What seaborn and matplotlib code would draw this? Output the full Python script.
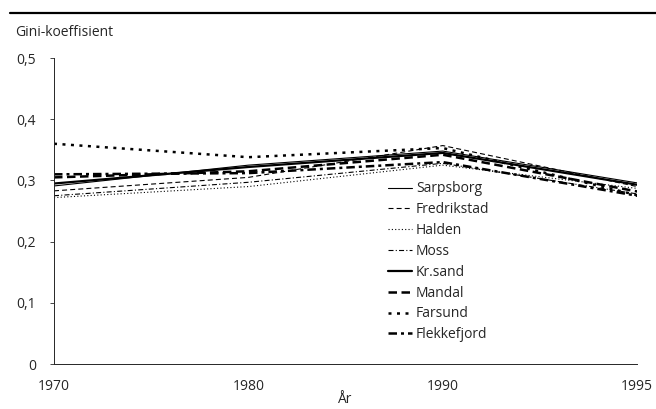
import pandas as pd
import seaborn as sns
import matplotlib.pyplot as plt
from matplotlib.lines import Line2D

# data (Gini coefficient by year)
years = [1970, 1980, 1990, 1995]
sarpsborg = [0.291, 0.325, 0.348, 0.296]
fredrikstad = [0.283, 0.305, 0.357, 0.290]
halden = [0.272, 0.290, 0.325, 0.287]
moss = [0.275, 0.297, 0.328, 0.278]
krsand = [0.295, 0.322, 0.345, 0.293]
mandal = [0.305, 0.315, 0.342, 0.282]
farsund = [0.360, 0.338, 0.353, 0.276]
flekkefjord = [0.310, 0.312, 0.330, 0.275]

names = ["Sarpsborg", "Fredrikstad", "Halden", "Moss",
         "Kr.sand", "Mandal", "Farsund", "Flekkefjord"]
series = [sarpsborg, fredrikstad, halden, moss,
          krsand, mandal, farsund, flekkefjord]

# line styles: thin for the first four towns, heavy for the last four
styles = {
    "Sarpsborg": dict(lw=0.8, dashes=None),
    "Fredrikstad": dict(lw=0.8, dashes=(4.5, 2.8)),
    "Halden": dict(lw=0.8, dashes=(1, 2)),
    "Moss": dict(lw=0.8, dashes=(4.5, 2, 1, 2)),
    "Kr.sand": dict(lw=1.6, dashes=None),
    "Mandal": dict(lw=1.8, dashes=(3.4, 1.8)),
    "Farsund": dict(lw=1.8, dashes=(1.2, 2.2)),
    "Flekkefjord": dict(lw=1.8, dashes=(3.4, 1.6, 1.2, 1.6)),
}

sns.set_style("ticks")
plt.rcParams["font.family"] = ["Open Sans", "DejaVu Sans"]

fig = plt.figure(figsize=(6.56, 4.09), dpi=100)
ax = fig.add_axes([0.0823, 0.110, 0.889, 0.748])

pos = list(range(len(years)))
handles = []
for name, vals in zip(names, series):
    df = pd.DataFrame({"pos": pos, "gini": vals})
    st = styles[name]
    sns.lineplot(data=df, x="pos", y="gini", ax=ax, color="black",
                 linewidth=st["lw"], legend=False)
    line = ax.get_lines()[-1]
    if st["dashes"] is not None:
        line.set_dashes(st["dashes"])
    h = Line2D([], [], color="black", lw=st["lw"])
    if st["dashes"] is not None:
        h.set_dashes(st["dashes"])
    handles.append(h)

ax.set_xlim(0, 3)
ax.set_ylim(0, 0.5)
ax.set_xticks(pos)
ax.set_xticklabels([str(y) for y in years])
ax.set_yticks([0, 0.1, 0.2, 0.3, 0.4, 0.5])
ax.set_yticklabels(["0", "0,1", "0,2", "0,3", "0,4", "0,5"])
ax.tick_params(axis="y", length=3, width=0.6, pad=10, labelsize=10)
ax.tick_params(axis="x", length=0, pad=11, labelsize=10)
ax.set_xlabel("År", fontsize=10, labelpad=-2)
ax.set_ylabel("")
for s in ["top", "right"]:
    ax.spines[s].set_visible(False)
for s in ["left", "bottom"]:
    ax.spines[s].set_linewidth(0.7)

ax.legend(handles, names, loc="upper left", bbox_to_anchor=(0.573, 0.597),
          frameon=False, fontsize=10, handlelength=1.75, handletextpad=0.25,
          labelspacing=0.42, borderpad=0, borderaxespad=0)

fig.text(0.023, 0.921, "Gini-koeffisient", fontsize=10, va="center")
fig.add_artist(Line2D([0.015, 1.0], [0.969, 0.969], color="black", lw=1.6,
                      transform=fig.transFigure))

fig.savefig("out.png", dpi=100)
